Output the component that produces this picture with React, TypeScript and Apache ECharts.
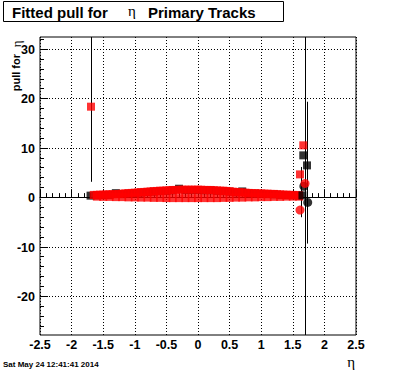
import React, { useEffect, useRef } from "react";
import * as echarts from "echarts";

// ---- axis definitions ----
const xMin = -2.5;
const xMax = 2.5;
const xStep = 0.5;
const yMin = -27.9;
const yMax = 32.4;
const yMajorTicks = [-20, -10, 0, 10, 20, 30];
const yMinorTicks = [-26, -24, -22, -18, -16, -14, -12, -8, -6, -4, -2, 2, 4, 6, 8, 12, 14, 16, 18, 22, 24, 26, 28, 32];

// ---- data: dense band of fitted pulls (red, upper row) ----
const bandEta = [
  -1.65, -1.6, -1.55, -1.5, -1.45, -1.4, -1.35, -1.3, -1.25, -1.2, -1.15, -1.1, -1.05, -1.0,
  -0.95, -0.9, -0.85, -0.8, -0.75, -0.7, -0.65, -0.6, -0.55, -0.5, -0.45, -0.4, -0.35, -0.3,
  -0.25, -0.2, -0.15, -0.1, -0.05, 0.0, 0.05, 0.1, 0.15, 0.2, 0.25, 0.3, 0.35, 0.4, 0.45, 0.5,
  0.55, 0.6, 0.65, 0.7, 0.75, 0.8, 0.85, 0.9, 0.95, 1.0, 1.05, 1.1, 1.15, 1.2, 1.25, 1.3, 1.35,
  1.4, 1.45, 1.5, 1.55, 1.6,
];
const redUpper = [
  0.45, 0.45, 0.5, 0.5, 0.55, 0.55, 0.6, 0.6, 0.65, 0.7, 0.75, 0.8, 0.85, 0.9,
  0.95, 1.0, 1.05, 1.1, 1.15, 1.2, 1.25, 1.3, 1.3, 1.35, 1.4, 1.45, 1.45, 1.5,
  1.5, 1.5, 1.5, 1.5, 1.5, 1.5, 1.5, 1.45, 1.45, 1.45, 1.4, 1.35, 1.3, 1.3, 1.25, 1.2,
  1.1, 1.05, 1.0, 0.95, 0.9, 0.85, 0.8, 0.8, 0.75, 0.75, 0.7, 0.7, 0.65, 0.65, 0.6, 0.55, 0.5,
  0.5, 0.45, 0.45, 0.4, 0.4,
];
// red, lower row
const lowEta = [
  -1.6, -1.5, -1.4, -1.3, -1.2, -1.1, -1.0, -0.9, -0.8, -0.7, -0.6, -0.5, -0.4, -0.3, -0.2, -0.1,
  0.0, 0.1, 0.2, 0.3, 0.4, 0.5, 0.6, 0.7, 0.8, 0.9, 1.0, 1.1, 1.2, 1.3, 1.4, 1.5, 1.6,
];
const redLower = [
  0.1, 0.05, 0.05, 0.0, 0.0, -0.05, -0.05, -0.1, -0.1, -0.15, -0.15, -0.2, -0.2, -0.2, -0.2, -0.2,
  -0.2, -0.2, -0.2, -0.2, -0.15, -0.15, -0.1, -0.1, -0.05, -0.05, 0.0, 0.0, 0.05, 0.05, 0.1, 0.1, 0.1,
];
// black band (mostly hidden under red)
const blackEta = [
  -1.7, -1.6, -1.5, -1.4, -1.3, -1.2, -1.1, -1.0, -0.9, -0.8, -0.7, -0.6, -0.5, -0.4, -0.3, -0.2,
  -0.1, 0.0, 0.1, 0.2, 0.3, 0.4, 0.5, 0.6, 0.7, 0.8, 0.9, 1.0, 1.1, 1.2, 1.3, 1.4, 1.5, 1.6,
];
const blackBand = [
  0.3, 0.35, 0.4, 0.45, 0.8, 0.6, 0.7, 0.8, 0.9, 1.0, 1.1, 1.2, 1.25, 1.35, 1.7, 1.4,
  1.4, 1.4, 1.35, 1.35, 1.25, 1.2, 1.1, 0.95, 1.15, 0.75, 0.7, 0.65, 0.6, 0.55, 0.45, 0.4, 0.35, 0.3,
];

// ---- isolated points ----
const redSquares = [
  [-1.693, 18.3],
  [1.666, 10.48],
  [1.614, 4.6],
];
const blackSquares = [
  [1.666, 8.45],
  [1.725, 6.42],
  [1.653, 0.35],
];
const redCircles = [
  [1.693, 2.78],
  [1.614, -2.63],
];
const blackCircles = [
  [1.675, 2.2],
  [1.736, -1.07],
];
// error bars: [eta, low, high]
const errorBars = [
  [-1.693, 3.1, 33.5],
  [1.688, -40, 40],
  [1.725, -9.4, 19.3],
  [1.625, -4.07, 6.1],
];

const SANS = '"Liberation Sans", Arial, Helvetica, sans-serif';
const SERIF = '"Liberation Serif", "Times New Roman", serif';

const crisp = (v: number) => Math.round(v) + 0.5;

export default function App() {
  const ref = useRef<HTMLDivElement | null>(null);

  useEffect(() => {
    if (!ref.current) return;
    const chart = echarts.init(ref.current, undefined, { renderer: "svg" });

    const zip = (xs: number[], ys: number[]) => xs.map((x, i) => [x, ys[i]]);

    const option: any = {
      animation: false,
      backgroundColor: "#ffffff",
      grid: {
        left: 40,
        top: 37,
        width: 316,
        height: 298,
        show: true,
        borderColor: "#000",
        borderWidth: 1,
        backgroundColor: "transparent",
      },
      xAxis: {
        type: "value",
        min: xMin,
        max: xMax,
        interval: xStep,
        axisLine: { show: true, lineStyle: { color: "#000", width: 1 } },
        axisTick: { show: true, inside: true, length: 8, lineStyle: { color: "#000", width: 1 } },
        minorTick: { show: true, splitNumber: 5, length: 4, lineStyle: { color: "#000", width: 1 } },
        splitLine: { show: true, lineStyle: { color: "#000", width: 1, type: [1, 2] } },
        axisLabel: {
          show: true,
          margin: 3,
          color: "#000",
          fontSize: 12.5,
          fontWeight: "bold",
          fontFamily: SANS,
          showMinLabel: true,
          showMaxLabel: true,
          hideOverlap: false,
        },
      },
      yAxis: {
        type: "value",
        min: yMin,
        max: yMax,
        axisLine: { show: false },
        axisTick: { show: false },
        splitLine: { show: false },
        axisLabel: { show: false },
      },
      graphic: [
        {
          type: "rect",
          shape: { x: 3.5, y: 1.5, width: 280, height: 20 },
          style: { fill: "#fff", stroke: "#000", lineWidth: 1 },
          z: 10,
        },
        {
          type: "text",
          x: 12,
          y: 12,
          z: 11,
          style: {
            text: "Fitted pull for",
            font: `bold 15px ${SANS}`,
            fill: "#000",
            textAlign: "left",
            textVerticalAlign: "middle",
            align: "left",
            verticalAlign: "middle",
          },
        },
        {
          type: "text",
          x: 128,
          y: 10.5,
          z: 11,
          style: {
            text: "η",
            font: `15px ${SERIF}`,
            fill: "#000",
            textAlign: "left",
            textVerticalAlign: "middle",
            align: "left",
            verticalAlign: "middle",
          },
        },
        {
          type: "text",
          x: 148,
          y: 12,
          z: 11,
          style: {
            text: "Primary Tracks",
            font: `bold 15px ${SANS}`,
            fill: "#000",
            textAlign: "left",
            textVerticalAlign: "middle",
            align: "left",
            verticalAlign: "middle",
          },
        },
        {
          type: "group",
          x: 16,
          y: 40,
          rotation: Math.PI / 2,
          children: [
            {
              type: "text",
              x: -0.5,
              y: 0,
              style: {
                text: "η",
                font: `13px ${SERIF}`,
                fill: "#000",
                textAlign: "right",
                textVerticalAlign: "middle",
                align: "right",
                verticalAlign: "middle",
              },
            },
            {
              type: "text",
              x: -14,
              y: 0,
              style: {
                text: "pull for",
                font: `bold 11px ${SANS}`,
                fill: "#000",
                textAlign: "right",
                textVerticalAlign: "middle",
                align: "right",
                verticalAlign: "middle",
              },
            },
          ],
        },
        {
          type: "text",
          x: 355,
          y: 362,
          style: {
            text: "η",
            font: `15px ${SERIF}`,
            fill: "#000",
            textAlign: "right",
            textVerticalAlign: "middle",
            align: "right",
            verticalAlign: "middle",
          },
        },
        {
          type: "text",
          x: 3,
          y: 364,
          style: {
            text: "Sat May 24 12:41:41 2014",
            font: `bold 8px ${SANS}`,
            fill: "#000",
            textAlign: "left",
            textVerticalAlign: "middle",
            align: "left",
            verticalAlign: "middle",
          },
        },
      ],
      series: [
        // y major ticks, dotted grid lines and labels
        {
          type: "custom",
          silent: true,
          clip: false,
          z: 1,
          data: yMajorTicks.map((v) => [xMin, v]),
          renderItem: (params: any, api: any) => {
            const cs = params.coordSys;
            const v = api.value(1);
            const y = crisp(api.coord([xMin, v])[1]);
            const left = cs.x;
            const right = cs.x + cs.width;
            return {
              type: "group",
              children: [
                {
                  type: "line",
                  shape: { x1: left, y1: y, x2: right, y2: y },
                  style: { stroke: "#000", lineWidth: 1, lineDash: [1, 2] },
                },
                {
                  type: "line",
                  shape: { x1: left, y1: y, x2: left + 8, y2: y },
                  style: { stroke: "#000", lineWidth: 1 },
                },
                {
                  type: "text",
                  x: left - 5,
                  y: y,
                  style: {
                    text: String(v),
                    font: `bold 12.5px ${SANS}`,
                    fill: "#000",
                    textAlign: "right",
                    textVerticalAlign: "middle",
                    align: "right",
                    verticalAlign: "middle",
                  },
                },
              ],
            };
          },
        },
        // y minor ticks
        {
          type: "custom",
          silent: true,
          clip: false,
          z: 1,
          data: yMinorTicks.map((v) => [xMin, v]),
          renderItem: (params: any, api: any) => {
            const cs = params.coordSys;
            const y = crisp(api.coord([xMin, api.value(1)])[1]);
            return {
              type: "line",
              shape: { x1: cs.x, y1: y, x2: cs.x + 4, y2: y },
              style: { stroke: "#000", lineWidth: 1 },
            };
          },
        },
        // error bars
        {
          type: "custom",
          silent: true,
          z: 2,
          data: errorBars,
          encode: { x: 0, y: [1, 2] },
          renderItem: (params: any, api: any) => {
            const cs = params.coordSys;
            const x = crisp(api.coord([api.value(0), 0])[0]);
            const yLo = Math.min(api.coord([0, api.value(1)])[1], cs.y + cs.height);
            const yHi = Math.max(api.coord([0, api.value(2)])[1], cs.y);
            return {
              type: "line",
              shape: { x1: x, y1: yLo, x2: x, y2: yHi },
              style: { stroke: "#000", lineWidth: 1 },
            };
          },
        },
        {
          type: "scatter",
          z: 3,
          symbol: "rect",
          symbolSize: 8,
          itemStyle: { color: "#000" },
          data: zip(blackEta, blackBand),
        },
        {
          type: "scatter",
          z: 4,
          symbol: "rect",
          symbolSize: 8,
          itemStyle: { color: "#ff0000" },
          data: zip(lowEta, redLower),
        },
        {
          type: "scatter",
          z: 4,
          symbol: "rect",
          symbolSize: 8,
          itemStyle: { color: "#ff0000" },
          data: zip(bandEta, redUpper),
        },
        {
          type: "scatter",
          z: 5,
          symbol: "rect",
          symbolSize: 8,
          itemStyle: { color: "#000" },
          data: blackSquares,
        },
        {
          type: "scatter",
          z: 6,
          symbol: "rect",
          symbolSize: 8,
          itemStyle: { color: "#ff0000" },
          data: redSquares,
        },
        {
          type: "scatter",
          z: 6,
          symbol: "circle",
          symbolSize: 9,
          itemStyle: { color: "#000" },
          data: blackCircles,
        },
        {
          type: "scatter",
          z: 7,
          symbol: "circle",
          symbolSize: 9,
          itemStyle: { color: "#ff0000" },
          data: redCircles,
        },
      ],
    };

    chart.setOption(option);
    return () => chart.dispose();
  }, []);

  return (
    <div
      ref={ref}
      style={{ position: "fixed", left: 0, top: 0, width: 396, height: 372, background: "#fff" }}
    />
  );
}
